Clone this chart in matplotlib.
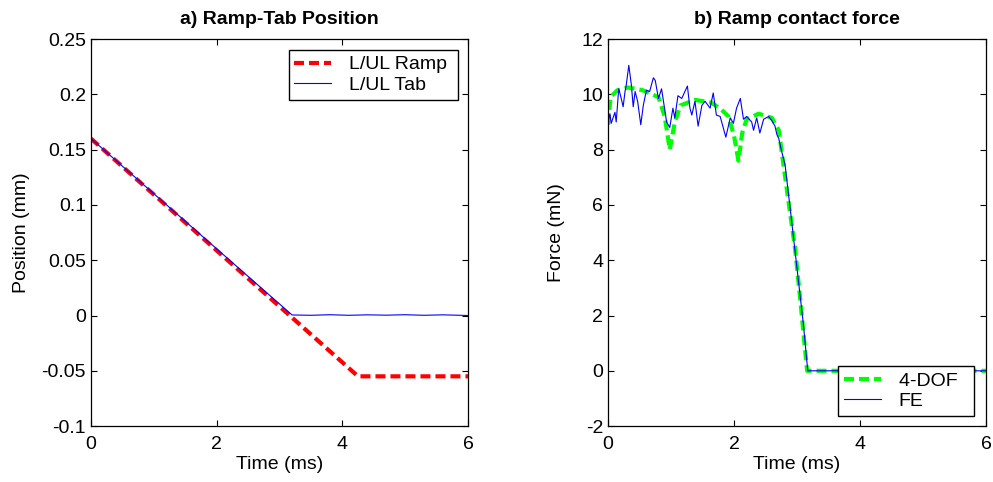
import numpy as np
import matplotlib
matplotlib.use('Agg')
import matplotlib.pyplot as plt

plt.rcParams['font.family'] = ['Liberation Sans', 'DejaVu Sans']
plt.rcParams['axes.unicode_minus'] = False

# a) ramp / tab position (mm) vs time (ms)
ramp_t = [0, 4.25, 6.0]
ramp_pos = [0.16, -0.055, -0.055]
tab_t = [0, 3.2, 3.5, 3.8, 4.1, 4.4, 4.7, 5.0, 5.3, 5.6, 6.0]
tab_pos = [0.16, 0.0005, 0.0002, 0.0007, 0.0002, 0.0006, 0.0003, 0.0007, 0.0002, 0.0006, 0.0]

# b) ramp contact force (mN) vs time (ms)
dof_t = [0, 0.04, 0.15, 0.32, 0.55, 0.8, 0.9, 0.98, 1.06, 1.15, 1.38, 1.64, 1.8, 1.91,
         2.0, 2.07, 2.13, 2.2, 2.39, 2.6, 2.71, 2.86, 2.97, 3.05, 3.16, 6.0]
dof_f = [8.9, 9.9, 10.15, 10.25, 10.15, 9.9, 9.2, 8.0, 9.0, 9.6, 9.8, 9.7, 9.45, 9.2,
         8.5, 7.6, 8.6, 9.1, 9.3, 9.15, 8.7, 6.2, 4.4, 2.6, 0.0, 0.0]
fe_t = [0, 0.03, 0.05, 0.11, 0.13, 0.17, 0.21, 0.24, 0.27, 0.29, 0.33, 0.37, 0.40, 0.43,
        0.47, 0.52, 0.56, 0.61, 0.66, 0.72, 0.75, 0.80, 0.85, 0.93, 0.98, 1.03, 1.06,
        1.11, 1.17, 1.22, 1.26, 1.30, 1.33, 1.38, 1.43, 1.49, 1.54, 1.62, 1.67, 1.72,
        1.78, 1.87, 1.94, 1.99, 2.04, 2.10, 2.15, 2.20, 2.28, 2.31, 2.36, 2.41, 2.47,
        2.55, 2.60, 2.65, 2.68, 2.71, 2.76, 2.81, 2.9, 3.0, 3.1, 3.17, 6.0]
fe_f = [9.0, 9.3, 8.95, 9.35, 9.0, 10.2, 9.85, 9.55, 10.1, 10.35, 11.05, 10.35, 9.55, 10.1,
        9.75, 8.9, 9.6, 10.15, 10.1, 10.6, 10.5, 9.85, 10.2, 9.0, 8.8, 9.5, 9.15,
        9.95, 9.85, 10.1, 10.3, 9.5, 9.25, 9.75, 8.85, 9.6, 9.75, 9.5, 10.05, 9.25,
        9.2, 8.45, 9.15, 8.95, 9.5, 9.85, 9.1, 9.2, 9.0, 8.7, 9.15, 8.6, 9.1,
        9.2, 9.05, 8.85, 8.55, 8.4, 7.9, 7.45, 5.7, 3.7, 1.7, 0.0, 0.0]

pos_ticks = [0.25, 0.2, 0.15, 0.1, 0.05, 0, -0.05, -0.1]
pos_labels = ['0.25', '0.2', '0.15', '0.1', '0.05', '0', '-0.05', '-0.1']
force_ticks = [-2, 0, 2, 4, 6, 8, 10, 12]
time_ticks = [0, 2, 4, 6]

fig = plt.figure(figsize=(9.93, 4.82), dpi=100)
ax1 = fig.add_axes([0.0916, 0.116, 0.3797, 0.803])
ax2 = fig.add_axes([0.6123, 0.116, 0.3807, 0.803])

fs = 14
leg_kw = dict(fontsize=fs, fancybox=False, edgecolor='black', framealpha=1,
              handlelength=1.9, handletextpad=0.9, borderpad=0.3,
              labelspacing=0.15, borderaxespad=0)

ax1.plot(ramp_t, ramp_pos, color='red', lw=3, dashes=(2.4, 1.2), label='L/UL Ramp ')
ax1.plot(tab_t, tab_pos, color='blue', lw=0.8, label='L/UL Tab')
ax1.set_xlim(0, 6)
ax1.set_ylim(-0.1, 0.25)
ax1.set_yticks(pos_ticks)
ax1.set_yticklabels(pos_labels)
ax1.set_title('a) Ramp-Tab Position', fontsize=14, fontweight='bold', pad=11)
ax1.set_ylabel('Position (mm)', fontsize=fs, labelpad=8)
ax1.legend(loc='upper right', bbox_to_anchor=(0.9735, 0.9716), **leg_kw)

ax2.plot(dof_t, dof_f, color='#00ff00', lw=3, dashes=(2.4, 1.2), label='4-DOF  ')
ax2.plot(fe_t, fe_f, color='blue', lw=0.8, label='FE')
ax2.set_xlim(0, 6)
ax2.set_ylim(-2, 12)
ax2.set_yticks(force_ticks)
ax2.set_title('b) Ramp contact force', fontsize=14, fontweight='bold', pad=11)
ax2.set_ylabel('Force (mN)', fontsize=fs, labelpad=12)
ax2.legend(loc='lower right', bbox_to_anchor=(0.968, 0.026), **leg_kw)

for ax in (ax1, ax2):
    ax.set_xticks(time_ticks)
    ax.set_xlabel('Time (ms)', fontsize=fs, labelpad=2)
    ax.tick_params(direction='in', top=True, right=True, labelsize=fs, length=4)
    ax.tick_params(axis='x', pad=7)
    for s in ax.spines.values():
        s.set_linewidth(0.9)

fig.savefig('out.png', dpi=100)
